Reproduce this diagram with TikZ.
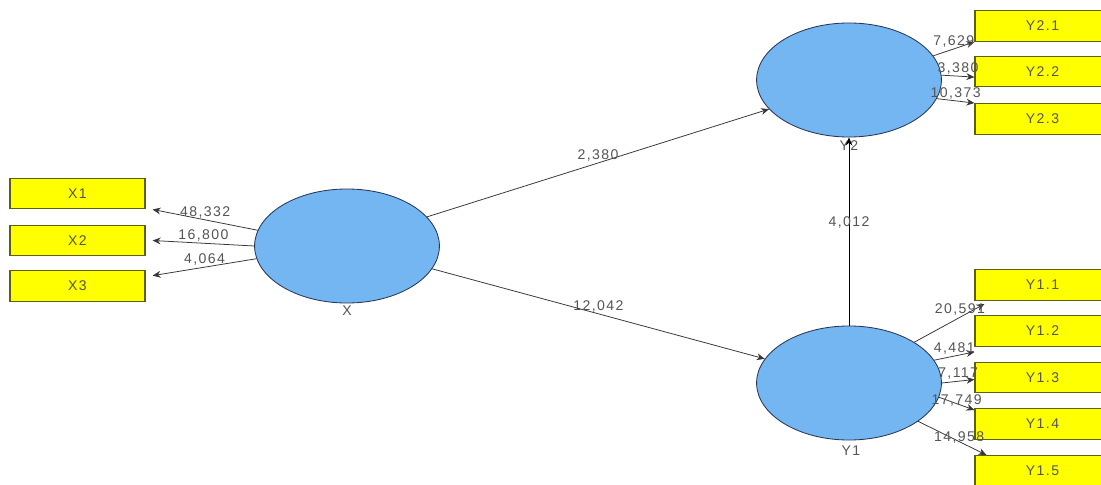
\documentclass[tikz,border=0pt]{standalone}
\usepackage{fontspec}
\setmainfont{Liberation Sans}[LetterSpace=10]
\usetikzlibrary{shapes.geometric,arrows.meta}
\definecolor{lvblue}{RGB}{115,182,242}
\definecolor{lvline}{RGB}{40,55,85}
\definecolor{mvyellow}{RGB}{255,255,0}
\definecolor{mvline}{RGB}{95,95,20}
\definecolor{edgegray}{RGB}{55,55,55}
\definecolor{txtgray}{RGB}{85,85,85}

\begin{document}
\begin{tikzpicture}[x=0.025cm,y=-0.025cm,
  lv/.style={ellipse,draw=lvline,fill=lvblue,line width=0.6pt,minimum width=4.62cm,minimum height=2.85cm,inner sep=0},
  mv/.style={draw=mvline,fill=mvyellow,line width=0.8pt,minimum width=3.375cm,minimum height=0.77cm,inner sep=0,text=txtgray,font=\fontsize{10}{12}\selectfont},
  load/.style={-{Stealth[length=2mm,width=1.7mm]},draw=edgegray,line width=0.55pt},
  val/.style={text=txtgray,font=\fontsize{10}{12}\selectfont,inner sep=1pt}]
\useasboundingbox (0,0) rectangle (1101,485);
\clip (0,0) rectangle (1101,485);
\fill[white] (0,0) rectangle (1101,485);
%latent variables
\node[lv] (X) at (347,246) {};
\node[lv] (Y2) at (849,80) {};
\node[lv] (Y1) at (849,383) {};
\node[val] (Xlab) at (347,311) {X};
\node[val] (Y2lab) at (849,146) {Y2};
\node[val] (Y1lab) at (851,451) {Y1};
%indicators
\node[mv] (X1) at (77.5,193.5) {X1};
\node[mv] (X2) at (77.5,240.5) {X2};
\node[mv] (X3) at (77.5,286) {X3};
\node[mv] (Y21) at (1042.5,26) {Y2.1};
\node[mv] (Y22) at (1042.5,71.5) {Y2.2};
\node[mv] (Y23) at (1042.5,119) {Y2.3};
\node[mv] (Y11) at (1042.5,285) {Y1.1};
\node[mv] (Y12) at (1042.5,331) {Y1.2};
\node[mv] (Y13) at (1042.5,377.5) {Y1.3};
\node[mv] (Y14) at (1042.5,424) {Y1.4};
\node[mv] (Y15) at (1042.5,471) {Y1.5};
%loadings
\draw[load](X.170)--([xshift=1.75mm]X1.south east)node[val,pos=0.5,above]{48,332};
\draw[load](X.180)--([xshift=1.75mm]X2.east)node[val,pos=0.5,above]{16,800};
\draw[load](X.188)--([xshift=1.75mm,yshift=-1.4mm]X3.north east)node[val,pos=0.5,above]{4,064};
\draw[load](Y2.16)--(Y21.south west)node[val,pos=0.5,above]{7,629};
\draw[load](Y2.3)--([yshift=-1.4mm]Y22.west)node[val,pos=0.5,above]{3,380};
\draw[load](Y2.-12)--(Y23.north west)node[val,pos=0.5,above]{10,373};
\draw[load](Y1.32)--([xshift=2.5mm,yshift=-0.75mm]Y11.south west)node[val,pos=0.65,above]{20,591};
\draw[load](Y1.15)--([yshift=-1.25mm]Y12.south west)node[val,pos=0.5,above]{4,481};
\draw[load](Y1.0)--([yshift=-0.5mm]Y13.west)node[val,pos=0.5,above]{7,117};
\draw[load](Y1.-9)--([yshift=-0.5mm]Y14.north west)node[val,pos=0.5,above=-1mm]{17,749};
\draw[load](Y1.-29)--([xshift=3mm]Y15.north west)node[val,pos=0.6,above=-1mm]{14,958};
%paths
\draw[load](X.20)--(Y2.200)node[val,pos=0.5,above]{2,380};
\draw[load](X.-15)--(Y1.164)node[val,pos=0.5,above]{12,042};
\draw[load,draw=black,line width=0.7pt](Y1.north)--(Y2.south)node[val,pos=0.55]{4,012};
\end{tikzpicture}
\end{document}
